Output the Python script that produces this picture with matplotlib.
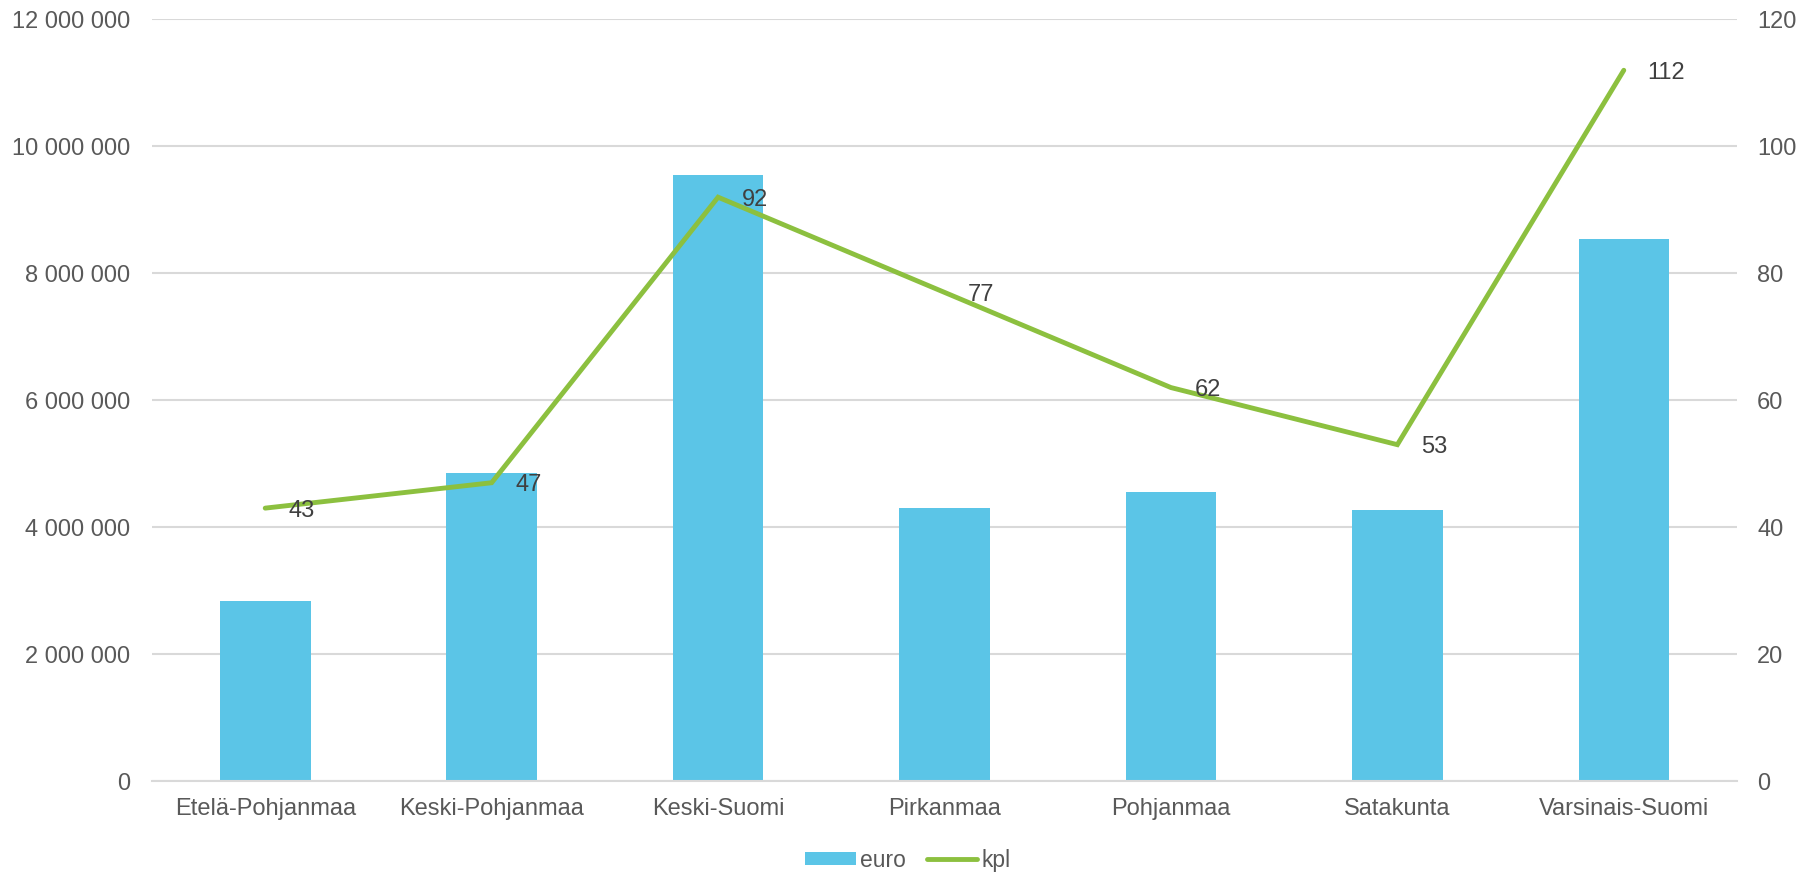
import matplotlib.pyplot as plt
from matplotlib.ticker import FuncFormatter

# data
regions = ['Etelä-Pohjanmaa', 'Keski-Pohjanmaa', 'Keski-Suomi', 'Pirkanmaa',
           'Pohjanmaa', 'Satakunta', 'Varsinais-Suomi']
euro = [2837000, 4849000, 9545000, 4307000, 4554000, 4266000, 8546000]
kpl = [43, 47, 92, 77, 62, 53, 112]

BAR_COLOR = '#5BC5E7'
LINE_COLOR = '#8CC03F'
TICK_COLOR = '#595959'
LABEL_COLOR = '#404040'
GRID_COLOR = '#D9D9D9'

plt.rcParams['font.family'] = ['Liberation Sans', 'DejaVu Sans']

fig = plt.figure(figsize=(18.16, 8.74), dpi=100)
ax = fig.add_axes([152 / 1816, 93 / 874, (1737 - 152) / 1816, (781 - 19.5) / 874])
ax2 = ax.twinx()

x = range(len(regions))
bars = ax.bar(x, euro, width=0.4, color=BAR_COLOR, label='euro', zorder=2)
line, = ax2.plot(x, kpl, color=LINE_COLOR, linewidth=3.5, solid_capstyle='round',
                 solid_joinstyle='miter', label='kpl', zorder=3)

# value labels to the right of each point
for xi, v in zip(x, kpl):
    ax2.annotate(str(v), (xi, v), xytext=(17, 0), textcoords='offset points',
                 ha='left', va='center_baseline', fontsize=17, color=LABEL_COLOR)

ax.set_xlim(-0.5, len(regions) - 0.5)
ax.set_ylim(0, 12000000)
ax.set_yticks(range(0, 12000001, 2000000))
ax.yaxis.set_major_formatter(FuncFormatter(lambda v, p: f'{int(v):,}'.replace(',', ' ')))
ax2.set_ylim(0, 120)
ax2.set_yticks(range(0, 121, 20))

ax.grid(axis='y', color=GRID_COLOR, linewidth=1.5, zorder=0)
ax.set_axisbelow(True)
for a in (ax, ax2):
    for s in a.spines.values():
        s.set_visible(False)
ax.spines['bottom'].set_visible(True)
ax.spines['bottom'].set_color(GRID_COLOR)
ax.spines['bottom'].set_linewidth(1.5)

ax.set_xticks(list(x))
ax.set_xticklabels(regions)
ax.tick_params(axis='x', length=0, pad=12, labelsize=17, labelcolor=TICK_COLOR)
ax.tick_params(axis='y', length=0, pad=16, labelsize=17, labelcolor=TICK_COLOR)
ax2.tick_params(axis='y', length=0, pad=14.5, labelsize=17, labelcolor=TICK_COLOR)

fig.legend([bars, line], ['euro', 'kpl'], loc='center', bbox_to_anchor=(0.5, 0.016),
           ncol=2, frameon=False, fontsize=16.5, handlelength=2.2, handleheight=0.55,
           handletextpad=0.2, columnspacing=0.9, labelcolor=TICK_COLOR)

fig.savefig('out.png', dpi=100)
